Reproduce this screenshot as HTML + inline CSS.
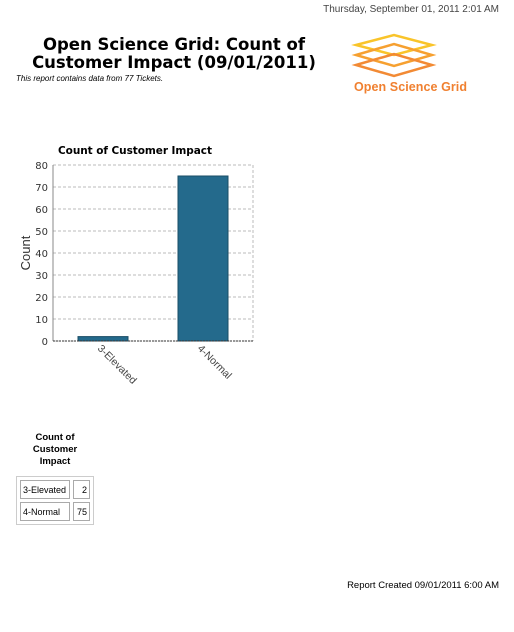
<!DOCTYPE html>
<html><head><meta charset="utf-8"><style>
body{margin:0;width:514px;height:632px;background:#fff;font-family:"Liberation Sans",sans-serif;position:relative;overflow:hidden}
.a{position:absolute}
td{border:1px solid #aaa;font-size:9px;padding:0 2px;height:17px;white-space:nowrap}
</style></head><body>
<div class="a" style="right:15px;top:4px;font-size:10px;color:#444">Thursday, September 01, 2011 2:01 AM</div>
<div class="a" style="left:14px;top:36px;width:320px;text-align:center;font-family:'DejaVu Sans',sans-serif;font-weight:bold;font-size:16.5px;line-height:18px">Open Science Grid: Count of<br>Customer Impact (09/01/2011)</div>
<div class="a" style="left:16px;top:74px;font-size:8px;font-style:italic">This report contains data from 77 Tickets.</div>
<svg class="a" style="left:350px;top:30px" width="130" height="66">
<g fill="none" stroke-width="2.5">
<path d="M6,15 L44,5 L82,15 L44,25 Z" stroke="#f9c42a"/>
<path d="M6,25 L44,14 L82,25 L44,36 Z" stroke="#f6a030"/>
<path d="M6,35 L44,24 L82,35 L44,46 Z" stroke="#f28a34"/>
</g>
<text x="4" y="61" font-size="12.5" font-weight="bold" fill="#f08030" font-family="Liberation Sans" textLength="113">Open Science Grid</text>
</svg>
<svg class="a" style="left:0;top:0" width="514" height="420" id="ch"></svg>
<div class="a" style="left:18px;top:432px;width:74px;text-align:center;font-size:9.5px;font-weight:bold;line-height:12px">Count of<br>Customer<br>Impact</div>
<table class="a" style="left:16px;top:476px;border:1px solid #ccc;border-spacing:3px;border-collapse:separate">
<tr><td style="width:44px">3-Elevated</td><td style="text-align:right;width:11px">2</td></tr>
<tr><td>4-Normal</td><td style="text-align:right">75</td></tr>
</table>
<div class="a" style="right:15px;top:580px;font-size:9.5px">Report Created 09/01/2011 6:00 AM</div>
<script>
const categories=["3-Elevated","4-Normal"];
const values=[2,75];
const ticks=[0,10,20,30,40,50,60,70,80];
const svg=document.getElementById('ch');const NS="http://www.w3.org/2000/svg";
const L=53,R=253,T=165,B=341,max=80;
const y=v=>B-(v/max)*(B-T);
const band=(R-L)/categories.length;
function el(t,a,txt){const e=document.createElementNS(NS,t);for(const k in a)e.setAttribute(k,a[k]);if(txt!==undefined)e.textContent=txt;svg.appendChild(e);return e;}
const tt=el('text',{x:135,y:154,'text-anchor':'middle','font-size':10.5,'font-weight':'bold','font-family':'DejaVu Sans',textLength:154},'Count of Customer Impact');


ticks.forEach(t=>{
 const g=el('line',{x1:L,x2:R,y1:y(t),y2:y(t),stroke:'#bbb','stroke-dasharray':'3,2'});
 
 
 const lb=el('text',{x:L-5,y:y(t)+4,'text-anchor':'end','font-size':10,fill:'#333','font-family':'DejaVu Sans'},t);
 
 
});
el('line',{x1:R,x2:R,y1:T,y2:B,stroke:'#bbb','stroke-dasharray':'3,2'});
el('line',{x1:L,x2:L,y1:T,y2:B,stroke:'#888'});
const yt=el('text',{x:30,y:253,'text-anchor':'middle','font-size':13,fill:'#333',transform:'rotate(-90 30 253)'},'Count');


categories.forEach((c,i)=>{
 const cx=L+band*(i+0.5),w=band/2;
 const b=el('rect',{x:cx-w/2,y:y(values[i]),width:w,height:B-y(values[i]),fill:'#246a8c',stroke:'#1a4d66','stroke-width':1});
 
 
 const lb=el('text',{x:cx-6,y:B+8,'font-size':10.5,fill:'#444',transform:`rotate(45 ${cx-6} ${B+8})`},c);
 
 
});
el('line',{x1:L,x2:R,y1:B,y2:B,stroke:'#333','stroke-dasharray':'2,1'});
</script>
</body></html>
